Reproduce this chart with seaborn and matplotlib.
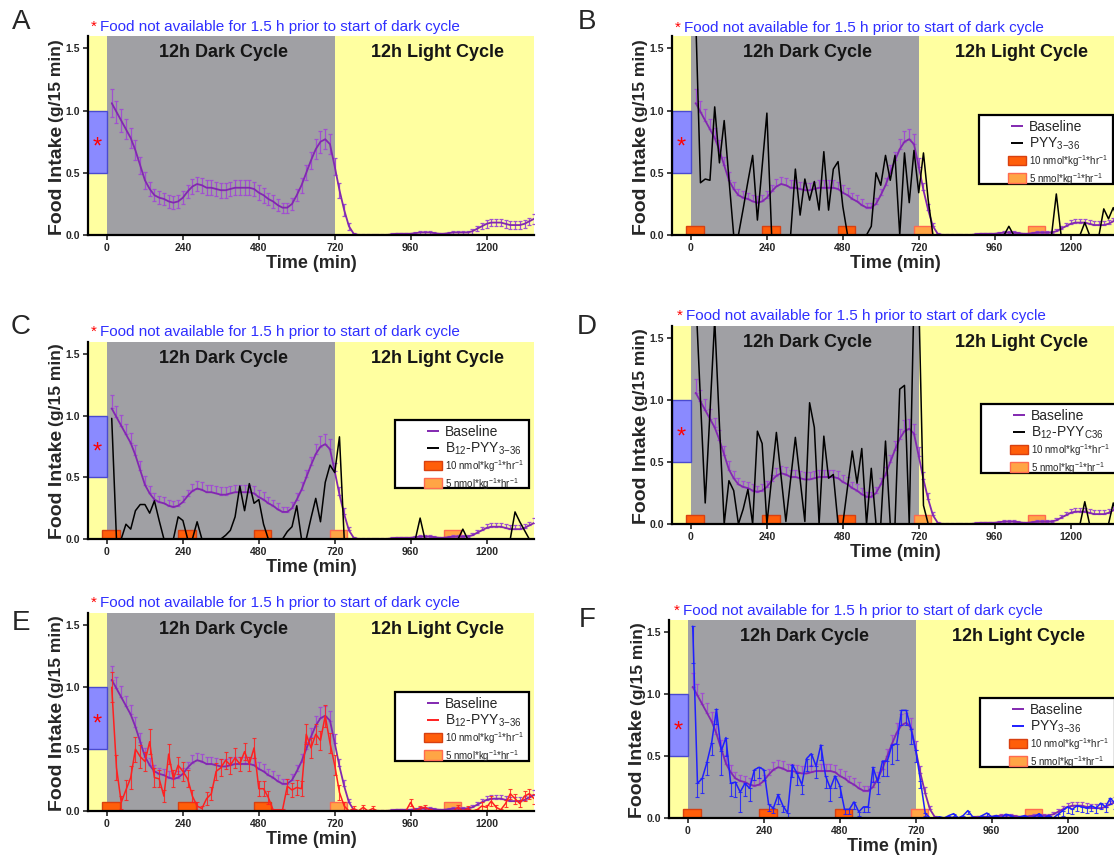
import matplotlib
matplotlib.use("Agg")
import matplotlib.pyplot as plt
import seaborn as sns
import pandas as pd
from matplotlib.patches import Rectangle, Patch
from matplotlib.lines import Line2D

# ---------------- data ----------------
TIME = list(range(15, 1351, 15))  # 15-min bins, 15..1350 min

BASELINE = [1.06, 0.99, 0.92, 0.85, 0.78, 0.68, 0.56, 0.44,
            0.37, 0.32, 0.30, 0.29, 0.27, 0.26, 0.27, 0.30,
            0.35, 0.39, 0.41, 0.40, 0.38, 0.38, 0.37, 0.36,
            0.36, 0.37, 0.38, 0.38, 0.38, 0.38, 0.37, 0.34,
            0.32, 0.29, 0.27, 0.24, 0.22, 0.22, 0.25, 0.32,
            0.40, 0.50, 0.60, 0.69, 0.75, 0.77, 0.73, 0.55,
            0.36, 0.20, 0.07, 0.01, 0.00, 0.00, 0.00, 0.00,
            0.00, 0.00, 0.00, 0.005, 0.01, 0.01, 0.01, 0.01,
            0.015, 0.02, 0.02, 0.02, 0.015, 0.01, 0.01, 0.015,
            0.02, 0.02, 0.02, 0.02, 0.03, 0.05, 0.07, 0.09,
            0.10, 0.10, 0.10, 0.09, 0.08, 0.08, 0.08, 0.09,
            0.11, 0.13]
BASELINE_SEM = [0.11, 0.09, 0.09, 0.08, 0.08, 0.08, 0.07, 0.07,
                0.06, 0.05, 0.05, 0.05, 0.05, 0.05, 0.05, 0.05,
                0.05, 0.06, 0.06, 0.06, 0.06, 0.06, 0.06, 0.06,
                0.06, 0.06, 0.06, 0.06, 0.06, 0.06, 0.06, 0.06,
                0.06, 0.05, 0.05, 0.05, 0.04, 0.04, 0.05, 0.05,
                0.06, 0.06, 0.07, 0.08, 0.09, 0.08, 0.08, 0.07,
                0.06, 0.05, 0.03, 0.01, 0.005, 0.005, 0.005, 0.005,
                0.005, 0.005, 0.005, 0.01, 0.01, 0.01, 0.01, 0.01,
                0.01, 0.015, 0.015, 0.015, 0.01, 0.01, 0.01, 0.01,
                0.015, 0.015, 0.015, 0.015, 0.02, 0.02, 0.025, 0.03,
                0.03, 0.03, 0.03, 0.03, 0.03, 0.03, 0.03, 0.03,
                0.03, 0.04]

PYY_B = [1.75, 0.42, 0.45, 0.44, 1.03, 0.58, 0.92, 0.45,
         0.00, 0.00, 0.21, 0.43, 0.64, 0.12, 0.55, 0.98,
         0.00, 0.00, 0.00, 0.00, 0.00, 0.53, 0.16, 0.45,
         0.28, 0.43, 0.20, 0.67, 0.20, 0.53, 0.59, 0.23,
         0.00, 0.00, 0.00, 0.00, 0.00, 0.07, 0.50, 0.40,
         0.64, 0.44, 0.64, 0.00, 0.66, 0.26, 0.68, 0.34,
         0.66, 0.28, 0.00, 0.00, 0.00, 0.00, 0.00, 0.00,
         0.00, 0.00, 0.00, 0.00, 0.00, 0.00, 0.00, 0.00,
         0.00, 0.00, 0.07, 0.00, 0.00, 0.00, 0.00, 0.00,
         0.00, 0.00, 0.00, 0.00, 0.33, 0.00, 0.00, 0.00,
         0.00, 0.00, 0.10, 0.00, 0.00, 0.00, 0.21, 0.13,
         0.22, 0.12]

B12_C = [0.98, 0.00, 0.00, 0.12, 0.08, 0.23, 0.28, 0.28,
         0.21, 0.31, 0.15, 0.00, 0.00, 0.00, 0.18, 0.15,
         0.00, 0.00, 0.14, 0.00, 0.00, 0.00, 0.00, 0.00,
         0.03, 0.07, 0.18, 0.43, 0.23, 0.45, 0.29, 0.32,
         0.12, 0.00, 0.00, 0.00, 0.00, 0.06, 0.10, 0.27,
         0.00, 0.00, 0.17, 0.33, 0.14, 0.46, 0.60, 0.54,
         0.83, 0.00, 0.00, 0.00, 0.00, 0.00, 0.00, 0.00,
         0.00, 0.00, 0.00, 0.00, 0.00, 0.00, 0.00, 0.00,
         0.00, 0.17, 0.00, 0.00, 0.00, 0.00, 0.00, 0.00,
         0.00, 0.00, 0.08, 0.00, 0.00, 0.00, 0.00, 0.00,
         0.00, 0.00, 0.00, 0.00, 0.00, 0.22, 0.14, 0.07,
         0.00, 0.00]

B12C36_D = [1.85, 1.00, 0.17, 0.90, 1.65, 0.80, 0.00, 0.35,
            0.27, 0.00, 0.12, 0.28, 0.00, 0.75, 0.65, 0.00,
            0.37, 0.74, 0.38, 0.02, 0.36, 0.70, 0.36, 0.02,
            0.98, 0.78, 0.00, 0.71, 0.37, 0.40, 0.00, 0.00,
            0.30, 0.59, 0.33, 0.61, 0.00, 0.45, 0.00, 0.00,
            0.67, 0.00, 0.00, 1.09, 1.12, 0.00, 1.85, 1.85,
            0.15, 0.00, 0.00, 0.00, 0.00, 0.00, 0.00, 0.00,
            0.00, 0.00, 0.00, 0.00, 0.00, 0.00, 0.00, 0.00,
            0.00, 0.00, 0.00, 0.00, 0.00, 0.00, 0.00, 0.00,
            0.00, 0.00, 0.00, 0.00, 0.00, 0.00, 0.00, 0.00,
            0.00, 0.00, 0.18, 0.00, 0.00, 0.00, 0.00, 0.00,
            0.17, 0.05]

B12_E = [1.00, 0.35, 0.07, 0.17, 0.27, 0.50, 0.44, 0.40,
         0.56, 0.27, 0.26, 0.12, 0.46, 0.26, 0.37, 0.32,
         0.26, 0.12, 0.04, 0.02, 0.10, 0.14, 0.32, 0.35,
         0.41, 0.37, 0.43, 0.38, 0.48, 0.38, 0.51, 0.18,
         0.18, 0.11, 0.01, 0.01, 0.01, 0.20, 0.17, 0.19,
         0.18, 0.62, 0.51, 0.62, 0.57, 0.77, 0.55, 0.37,
         0.15, 0.04, 0.00, 0.02, 0.00, 0.03, 0.00, 0.02,
         0.00, 0.00, 0.00, 0.00, 0.00, 0.00, 0.00, 0.07,
         0.00, 0.02, 0.03, 0.01, 0.00, 0.00, 0.00, 0.00,
         0.00, 0.03, 0.00, 0.02, 0.00, 0.01, 0.04, 0.03,
         0.08, 0.03, 0.01, 0.06, 0.14, 0.10, 0.06, 0.12,
         0.14, 0.10]
B12_E_SEM = [0.12, 0.10, 0.05, 0.08, 0.09, 0.10, 0.09, 0.08,
             0.10, 0.08, 0.07, 0.05, 0.08, 0.07, 0.07, 0.08,
             0.07, 0.05, 0.03, 0.02, 0.05, 0.05, 0.07, 0.07,
             0.07, 0.07, 0.08, 0.06, 0.07, 0.06, 0.08, 0.06,
             0.06, 0.05, 0.01, 0.01, 0.01, 0.06, 0.06, 0.06,
             0.06, 0.08, 0.08, 0.08, 0.08, 0.09, 0.08, 0.08,
             0.06, 0.03, 0.01, 0.02, 0.01, 0.02, 0.01, 0.02,
             0.01, 0.01, 0.01, 0.01, 0.01, 0.01, 0.01, 0.03,
             0.01, 0.02, 0.02, 0.01, 0.01, 0.01, 0.01, 0.01,
             0.01, 0.02, 0.01, 0.02, 0.01, 0.01, 0.03, 0.02,
             0.04, 0.02, 0.01, 0.03, 0.04, 0.04, 0.03, 0.04,
             0.04, 0.04]

PYY_F = [1.55, 0.28, 0.32, 0.45, 0.61, 0.88, 0.54, 0.65,
         0.28, 0.29, 0.21, 0.28, 0.24, 0.39, 0.41, 0.39,
         0.11, 0.08, 0.19, 0.10, 0.04, 0.43, 0.36, 0.27,
         0.48, 0.52, 0.42, 0.59, 0.34, 0.24, 0.34, 0.26,
         0.07, 0.07, 0.13, 0.05, 0.09, 0.09, 0.41, 0.29,
         0.46, 0.46, 0.59, 0.60, 0.87, 0.87, 0.72, 0.55,
         0.30, 0.04, 0.00, 0.00, 0.01, 0.00, 0.02, 0.035,
         0.00, 0.02, 0.06, 0.01, 0.00, 0.02, 0.04, 0.01,
         0.02, 0.00, 0.03, 0.02, 0.00, 0.01, 0.02, 0.00,
         0.01, 0.035, 0.00, 0.02, 0.00, 0.03, 0.06, 0.09,
         0.07, 0.10, 0.09, 0.08, 0.10, 0.08, 0.12, 0.09,
         0.16, 0.12]
PYY_F_SEM = [0.30, 0.11, 0.12, 0.10, 0.10, 0.12, 0.19, 0.15,
             0.10, 0.12, 0.16, 0.10, 0.10, 0.08, 0.09, 0.08,
             0.05, 0.04, 0.08, 0.05, 0.03, 0.10, 0.09, 0.08,
             0.10, 0.10, 0.10, 0.12, 0.10, 0.10, 0.10, 0.09,
             0.04, 0.04, 0.06, 0.03, 0.04, 0.04, 0.12, 0.10,
             0.12, 0.12, 0.15, 0.13, 0.12, 0.12, 0.12, 0.10,
             0.06, 0.02, 0.00, 0.00, 0.01, 0.00, 0.01, 0.02,
             0.00, 0.01, 0.03, 0.01, 0.00, 0.01, 0.02, 0.01,
             0.01, 0.00, 0.02, 0.01, 0.00, 0.01, 0.01, 0.00,
             0.01, 0.02, 0.00, 0.01, 0.00, 0.02, 0.04, 0.05,
             0.04, 0.04, 0.04, 0.04, 0.04, 0.04, 0.05, 0.04,
             0.05, 0.05]

INFUSION_START = [0, 240, 480, 720, 1080]
INFUSION_DOSE = ["10", "10", "10", "5", "5"]
X_TICKS = [0, 240, 480, 720, 960, 1200]
Y_TICKS = [0.0, 0.5, 1.0, 1.5]
PANEL_LETTERS = ["A", "B", "C", "D", "E", "F"]
TREATMENT_LABELS = [None, "PYY$_{3{-}36}$", "B$_{12}$-PYY$_{3{-}36}$",
                    "B$_{12}$-PYY$_{C36}$", "B$_{12}$-PYY$_{3{-}36}$", "PYY$_{3{-}36}$"]
DOSE_LABELS = ["10 nmol*kg$^{{-}1}$*hr$^{{-}1}$", "5 nmol*kg$^{{-}1}$*hr$^{{-}1}$"]
NOTE = "Food not available for 1.5 h prior to start of dark cycle"

# ---------------- style ----------------
sns.set_theme(style="ticks")
plt.rcParams["font.family"] = ["Liberation Sans", "DejaVu Sans"]
plt.rcParams["mathtext.default"] = "regular"

YELLOW = "#FFFFA0"
GRAY = "#A0A0A4"
PURPLE = "#8228B0"
PURPLE_ERR = "#A050D0"
BOXBLUE = "#8A8AFF"
BOXBLUE_EDGE = "#4A4AD0"
OR10, OR10_EDGE = "#FF5E0A", "#D84010"
OR5, OR5_EDGE = "#FFA545", "#FF6A50"
NOTE_BLUE = "#2F2FFF"

W, H = 1114, 857
fig = plt.figure(figsize=(W / 100, H / 100), dpi=100)
fig.patch.set_facecolor("white")


def fx(x):
    return x / W


def fy(y):
    return 1 - y / H


# pixel layout: axes (left, top, width, height), letter (x,y), note (star_x, text_x, y), legend frame (x0,y0,x1,y1)
LAYOUT = [
    dict(ax=(88, 36, 446, 199), letter=(21, 22), note=(91, 100, 27), leg=None),
    dict(ax=(672, 36, 446, 199), letter=(587, 22), note=(675, 684, 28), leg=(979, 115, 1113, 184)),
    dict(ax=(88, 342, 446, 197), letter=(21, 327), note=(91, 100, 332), leg=(395, 420, 529, 488)),
    dict(ax=(672, 326, 446, 198), letter=(587, 327), note=(677, 686, 316), leg=(981, 404, 1116, 473)),
    dict(ax=(88, 613, 446, 198), letter=(21, 623), note=(91, 100, 603), leg=(395, 692, 529, 761)),
    dict(ax=(669, 620, 446, 198), letter=(587, 620), note=(674, 683, 611), leg=(980, 698, 1115, 767)),
]

TREATMENTS = [None, PYY_B, B12_C, B12C36_D, B12_E, PYY_F]
TREAT_COLORS = [None, "black", "black", "black", "#FF2020", "#1F1FFF"]
TREAT_SEM = [None, None, None, None, B12_E_SEM, PYY_F_SEM]

for i, lay in enumerate(LAYOUT):
    l, t, w, h = lay["ax"]
    ax = fig.add_axes([fx(l), fy(t + h), w / W, h / H])
    ax.set_xlim(-60, 1350)
    ax.set_ylim(0, 1.6)
    ax.set_facecolor(YELLOW)
    ax.axvspan(0, 720, color=GRAY, lw=0, zorder=0)
    ax.add_patch(Rectangle((-60, 0.5), 60, 0.5, fc=BOXBLUE, ec=BOXBLUE_EDGE, lw=1, zorder=1))
    ax.text(-30, 0.70, "*", color="red", fontsize=17, ha="center", va="center", zorder=2)
    ax.text(368, 1.465, "12h Dark Cycle", fontsize=13, fontweight="bold", color="#151515",
            ha="center", va="center", zorder=2)
    ax.text(1046, 1.465, "12h Light Cycle", fontsize=13, fontweight="bold", color="#151515",
            ha="center", va="center", zorder=2)

    if i > 0:
        for s, d in zip(INFUSION_START, INFUSION_DOSE):
            fc, ec = (OR10, OR10_EDGE) if d == "10" else (OR5, OR5_EDGE)
            ax.add_patch(Rectangle((s - 15, 0), 55, 0.07, fc=fc, ec=ec, lw=1, zorder=2))

    # baseline
    df = pd.DataFrame({"Time": TIME, "Intake": BASELINE})
    sns.lineplot(data=df, x="Time", y="Intake", ax=ax, color=PURPLE, lw=1.3, zorder=4, legend=False)
    if i == 0:
        yerr = [BASELINE_SEM, BASELINE_SEM]
    else:
        yerr = [[0] * len(BASELINE_SEM), BASELINE_SEM]
    ax.errorbar(TIME, BASELINE, yerr=yerr, fmt="none", ecolor=PURPLE_ERR, elinewidth=0.9,
                capsize=1.3, capthick=0.9, zorder=3)

    if i > 0:
        vals = TREATMENTS[i]
        col = TREAT_COLORS[i]
        sem = TREAT_SEM[i]
        if sem is not None:
            if i == 4:
                tyerr = [sem, sem]
            else:
                tyerr = [sem, [0] * len(sem)]
            ax.errorbar(TIME, vals, yerr=tyerr, fmt="none", ecolor=col, elinewidth=0.8,
                        capsize=1.2, capthick=0.8, zorder=5, alpha=0.85)
        dft = pd.DataFrame({"Time": TIME, "Intake": vals})
        sns.lineplot(data=dft, x="Time", y="Intake", ax=ax, color=col, lw=1.1, zorder=6, legend=False)

    # axes styling
    for side in ["top", "right"]:
        ax.spines[side].set_visible(False)
    for side in ["left", "bottom"]:
        ax.spines[side].set_linewidth(1.6)
        ax.spines[side].set_color("black")
        ax.spines[side].set_zorder(10)
    ax.set_xticks(X_TICKS)
    ax.set_xticklabels([str(v) for v in X_TICKS])
    ax.set_yticks(Y_TICKS)
    ax.set_yticklabels([f"{v:.1f}" for v in Y_TICKS])
    ax.tick_params(axis="both", direction="out", length=3.5, width=1.2, pad=2, labelsize=7.5)
    for lab in ax.get_xticklabels() + ax.get_yticklabels():
        lab.set_fontweight("bold")
    ax.set_xlabel("Time (min)", fontsize=13, fontweight="bold", labelpad=2)
    ax.set_ylabel("")

    # two-part y label (centre ~31 px left of the y axis)
    t1 = ax.text(-31 / w, 0.0, "Food Intake", rotation=90, transform=ax.transAxes,
                 ha="center", va="bottom", fontsize=14, fontweight="bold")
    ax.annotate("(g/15 min)", xy=(0.5, 1.0), xycoords=t1, xytext=(0, 3),
                textcoords="offset points", rotation=90, ha="center", va="bottom",
                fontsize=12.5, fontweight="bold")

    # panel letter and note
    lx, ly = lay["letter"]
    fig.text(fx(lx), fy(ly), PANEL_LETTERS[i], fontsize=20, ha="center", va="center")
    sx, tx, ny = lay["note"]
    fig.text(fx(sx), fy(ny), "*", fontsize=11, color="red", ha="left", va="center")
    fig.text(fx(tx), fy(ny), NOTE, fontsize=11, color=NOTE_BLUE, ha="left", va="center")

    # legend
    if lay["leg"] is not None:
        x0, y0, x1, y1 = lay["leg"]
        fig.patches.append(Rectangle((fx(x0), fy(y1)), (x1 - x0) / W, (y1 - y0) / H,
                                     transform=fig.transFigure, fc="white", ec="black",
                                     lw=1.6, zorder=20))
        handles = [
            Line2D([0], [0], color=PURPLE, marker="_", ls="None", markersize=8, mew=1.4),
            Line2D([0], [0], color=TREAT_COLORS[i], marker="_", ls="None", markersize=8, mew=1.4),
            Patch(fc=OR10, ec=OR10_EDGE, lw=1),
            Patch(fc=OR5, ec=OR5_EDGE, lw=1),
        ]
        labels = ["Baseline", TREATMENT_LABELS[i]] + DOSE_LABELS
        leg = fig.legend(handles, labels, loc="upper left",
                         bbox_to_anchor=(fx(x0 + 26), fy(y0 + 2)), bbox_transform=fig.transFigure,
                         frameon=False, fontsize=10, handlelength=1.3, handleheight=0.7,
                         handletextpad=0.2, labelspacing=0.12, borderpad=0.2, borderaxespad=0,
                         numpoints=1)
        leg.set_zorder(21)
        for k, txt in enumerate(leg.get_texts()):
            if k >= 2:
                txt.set_fontsize(7.0)

fig.savefig("out.png", dpi=100)
